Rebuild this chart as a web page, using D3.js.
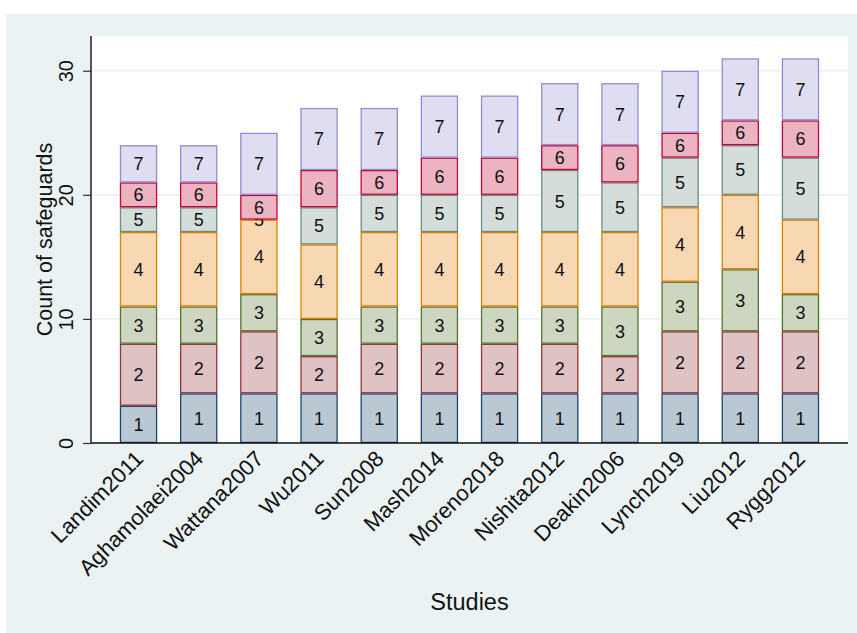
<!DOCTYPE html>
<html lang="en">
  <head>
    <meta charset="utf-8">
    <title>Count of safeguards by study</title>
    <style>
      body {
        margin: 0;
        background: white;
      }
      svg {
        display: block;
        font-family: Arial, "Liberation Sans", sans-serif;
      }
    </style>
    <script src="https://d3js.org/d3.v7.min.js"></script>
  </head>
  <body>
    <script>

    // studies and the count of safeguards in each group 1..7
    const studies = ["Landim2011", "Aghamolaei2004", "Wattana2007", "Wu2011", "Sun2008", "Mash2014",
                     "Moreno2018", "Nishita2012", "Deakin2006", "Lynch2019", "Liu2012", "Rygg2012"];
    const groups = ["1", "2", "3", "4", "5", "6", "7"];

    const g1 = [3, 4, 4, 4, 4, 4, 4, 4, 4, 4, 4, 4];
    const g2 = [5, 4, 5, 3, 4, 4, 4, 4, 3, 5, 5, 5];
    const g3 = [3, 3, 3, 3, 3, 3, 3, 3, 4, 4, 5, 3];
    const g4 = [6, 6, 6, 6, 6, 6, 6, 6, 6, 6, 6, 6];
    const g5 = [2, 2, 0, 3, 3, 3, 3, 5, 4, 4, 4, 5];
    const g6 = [2, 2, 2, 3, 2, 3, 3, 2, 3, 2, 2, 3];
    const g7 = [3, 3, 5, 5, 5, 5, 5, 5, 5, 5, 5, 5];

    const yTicks = [0, 10, 20, 30];

    const strokes = ["#1a476f", "#90353b", "#55752f", "#e37e00", "#6e8e84", "#c10534", "#938dd2"];
    const fills   = ["#bac8d4", "#dec2c4", "#ccd6c1", "#f7d8b3", "#d4ddda", "#ecb4c2", "#dfddf2"];

    const W = 857, H = 633;
    const plot = { left: 91, right: 848, top: 36, bottom: 443 };

    const table = studies.map((s, i) => {
      const row = { study: s };
      [g1, g2, g3, g4, g5, g6, g7].forEach((arr, j) => row[groups[j]] = arr[i]);
      return row;
    });
    const series = d3.stack().keys(groups)(table);

    const svg = d3.select("body")
      .append("svg")
      .attr("width", W)
      .attr("height", H);

    // outer panel + plot region
    svg.append("rect")
      .attr("x", 6).attr("y", 14)
      .attr("width", W - 6).attr("height", H - 14)
      .attr("fill", "#eaf2f3");
    svg.append("rect")
      .attr("x", plot.left).attr("y", plot.top)
      .attr("width", plot.right - plot.left).attr("height", plot.bottom - plot.top)
      .attr("fill", "white");

    const x = d3.scaleBand()
      .domain(studies)
      .range([plot.left, plot.right])
      .paddingInner(0.4)
      .paddingOuter(0.49);

    const y = d3.scaleLinear()
      .domain([0, 32.8])
      .range([plot.bottom, plot.top]);

    // gridlines
    svg.append("g")
      .selectAll("line")
      .data(yTicks.filter(d => d > 0))
      .join("line")
      .attr("x1", plot.left).attr("x2", plot.right)
      .attr("y1", d => y(d)).attr("y2", d => y(d))
      .attr("stroke", "#eaf2f3")
      .attr("stroke-width", 1.6);

    // bars
    const layer = svg.append("g")
      .selectAll("g")
      .data(series)
      .join("g");

    layer.selectAll("rect")
      .data((s, i) => s.map(d => ({ d, i })))
      .join("rect")
      .filter(o => o.d[1] > o.d[0])
      .attr("x", o => x(o.d.data.study))
      .attr("y", o => y(o.d[1]) + 0.6)
      .attr("width", x.bandwidth())
      .attr("height", o => y(o.d[0]) - y(o.d[1]) - 1.2)
      .attr("fill", o => fills[o.i])
      .attr("stroke", o => strokes[o.i])
      .attr("stroke-width", 1.3);

    // segment labels
    layer.selectAll("text")
      .data((s, i) => s.map(d => ({ d, i })))
      .join("text")
      .attr("x", o => x(o.d.data.study) + x.bandwidth() / 2)
      .attr("y", o => y((o.d[0] + o.d[1]) / 2))
      .attr("dy", "0.36em")
      .attr("text-anchor", "middle")
      .style("font-size", "18px")
      .style("fill", "#111")
      .text(o => groups[o.i]);

    // y axis
    const yAxis = svg.append("g")
      .attr("transform", `translate(${plot.left},0)`)
      .call(d3.axisLeft(y).tickValues(yTicks).tickSize(8).tickPadding(4));
    yAxis.select(".domain").remove();
    yAxis.selectAll(".tick line").attr("stroke", "#333").attr("stroke-width", 1.2);
    yAxis.selectAll(".tick text")
      .attr("transform", "rotate(-90)")
      .attr("x", 0)
      .attr("y", -18)
      .attr("dy", 0)
      .attr("text-anchor", "middle")
      .style("font-size", "20px")
      .style("font-family", "Arial, 'Liberation Sans', sans-serif")
      .style("fill", "#111");

    svg.append("line")
      .attr("x1", plot.left).attr("x2", plot.left)
      .attr("y1", plot.top).attr("y2", plot.bottom)
      .attr("stroke", "#111").attr("stroke-width", 1.4);
    svg.append("line")
      .attr("x1", plot.left).attr("x2", plot.right)
      .attr("y1", plot.bottom).attr("y2", plot.bottom)
      .attr("stroke", "#111").attr("stroke-width", 1.4);

    // x labels
    svg.append("g")
      .selectAll("text")
      .data(studies)
      .join("text")
      .attr("transform", d => `translate(${x(d) + x.bandwidth() / 2 + 6},${plot.bottom + 17}) rotate(-45)`)
      .attr("text-anchor", "end")
      .style("font-size", "22px")
      .style("fill", "#111")
      .text(d => d);

    // axis titles
    svg.append("text")
      .attr("x", (plot.left + plot.right) / 2)
      .attr("y", 610)
      .attr("text-anchor", "middle")
      .style("font-size", "23.5px")
      .style("fill", "#111")
      .text("Studies");

    svg.append("text")
      .attr("transform", `translate(52,${(plot.top + plot.bottom) / 2}) rotate(-90)`)
      .attr("text-anchor", "middle")
      .style("font-size", "21.5px")
      .style("fill", "#111")
      .text("Count of safeguards");

    </script>
  </body>
</html>
